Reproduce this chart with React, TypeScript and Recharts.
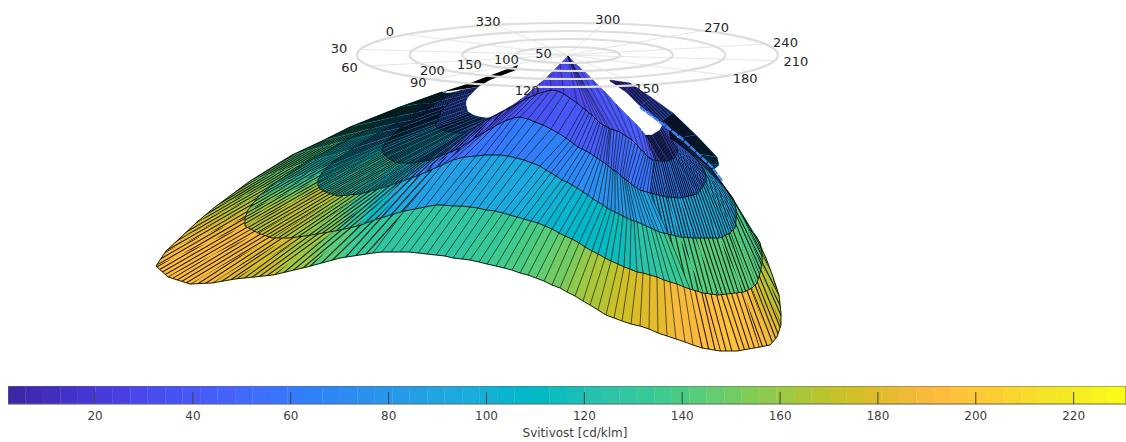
import { ScatterChart, Scatter, XAxis, YAxis, ReferenceArea, Label } from 'recharts';

type Pt = [number, number];

const FONT = '"DejaVu Sans", sans-serif';

// parula, 64 steps, as the colorbar shows it
const PARULA = [
  '#3e26a8', '#402ab4', '#422ebf', '#4332cb', '#4537d5', '#463cde', '#4741e5', '#4747eb', '#484df0', '#4752f4',
  '#4758f8', '#465dfb', '#4563fc', '#4269fe', '#3e6fff', '#3875fe', '#327cfc', '#2f81fa', '#2d87f7', '#2d8cf3',
  '#2b91ef', '#2796eb', '#259be8', '#23a0e5', '#20a5e3', '#1ca9df', '#18addb', '#11b1d6', '#08b5d0', '#01b8ca',
  '#02bac3', '#0bbdbd', '#19bfb6', '#24c1ae', '#2cc3a7', '#31c69f', '#37c897', '#3fca8e', '#4acb84', '#57cc7a',
  '#64cd6f', '#72cc64', '#81cc59', '#8fca4e', '#9dc943', '#abc739', '#b9c431', '#c5c22a', '#d1bf27', '#dcbd29',
  '#e6bb2d', '#efba36', '#f8ba3d', '#febd3c', '#fec338', '#fec934', '#fccf30', '#f9d52d', '#f7dc2a', '#f5e327',
  '#f5e924', '#f6ef20', '#f7f51b', '#f9fb14',
];

const COLORBAR_MIN = 2.2;
const COLORBAR_MAX = 230.7;
const colorbarTicks = [20, 40, 60, 80, 100, 120, 140, 160, 180, 200, 220];

const gridRadii = [50, 100, 150, 200];
const angleTicks = [0, 30, 60, 90, 120, 150, 180, 210, 240, 270, 300, 330];
const gridCentre = [{ x: 567.5, y: 55 }];

// the surface, as projected on the page: one ring per constant-gamma row, same column count in each.
// columns run over the left lobe (18), along the front (40), then up the right side (15)
const LEFT_COLS = 18;
const FRONT_COLS = 40;
const ringR: Pt[] = [
  [478,87],[472,93],[468,97],[466,101],[466,105],[467,109],[468,112],[470,113],[473,115],[476,116],[480,117],[487,118],[493,117],[496,116],[499,115],[505,111],[510,107],[516,103],
  [521,99],[525,96],[530,92],[535,87],[540,83],[545,79],[550,74],[555,69],[560,64],[564,60],
  [568,56],[568,56],[568,56],[568,56],[568,56],[568,56],[568,56],[568,56],[568,56],[568,56],[568,56],[568,56],[568,56],[568,56],
  [578,66],[585,72],[592,79],[598,85],[604,91],[610,97],[616,104],[622,110],[628,116],[632,120],[636,124],[640,128],[642,131],[644,133],[645,135],[645,135],
  [645,135],[652,135],[660,130],[661,128],[662,126],[662,124],[661,123],[662,122],[664,122],[665,123],[667,125],[668,126],[670,128],[668,128],[666,124],
];
const ringA: Pt[] = [
  [462,90],[453,98],[447,105],[443,109],[440,113],[438,119],[436,124],[436,126],[437,127],[440,129],[445,131],[452,132],[458,133],[460,133],[464,132],[475,127],[488,119],[500,113],
  [515,105],[520,102],[525,99],[530,97],[537,94],[544,92],[551,90],[558,91],[564,94],[570,98],
  [577,103],[583,108],[586,110],[589,113],[592,115],[595,118],[598,121],[600,123],[603,125],[605,126],[607,127],[609,128],[610,129],[611,129],
  [614,130],[617,131],[620,132],[623,134],[626,136],[629,138],[632,140],[635,143],[638,146],[641,150],[644,152],[646,155],[648,157],[650,158],[652,160],[654,160],
  [660,161],[668,161],[674,158],[676,155],[677,153],[678,151],[678,150],[676,147],[674,144],[673,142],[672,141],[672,140],[672,139],[670,138],[670,130],
];
const ringB: Pt[] = [
  [455,92],[440,101],[427,110],[413,120],[400,128],[392,136],[385,143],[383,147],[382,150],[383,153],[387,157],[395,162],[402,163],[406,163],[412,163],[430,160],[445,154],[458,149],
  [475,138],[485,132],[495,126],[505,121],[513,118],[520,117],[528,119],[535,122],[543,125],[551,129],
  [558,133],[566,138],[570,141],[574,144],[578,147],[582,149],[586,151],[590,153],[594,156],[597,158],[600,160],[603,162],[606,164],[608,166],
  [611,168],[613,170],[615,171],[617,172],[620,175],[622,177],[624,178],[626,180],[628,181],[631,184],[634,186],[637,188],[640,190],[643,191],[647,192],[650,193],
  [667,197],[680,198],[697,194],[702,188],[705,183],[706,180],[706,177],[705,172],[703,168],[701,165],[699,163],[698,161],[697,160],[692,155],[678,138],
];
const ringC: Pt[] = [
  [450,93],[430,104],[415,113],[397,123],[378,133],[350,150],[327,167],[322,173],[318,180],[318,185],[320,189],[328,193],[338,196],[348,195],[360,194],[385,187],[400,182],[417,176],
  [442,165],[453,160],[464,157],[476,156],[484,155],[492,155],[500,155],[508,156],[516,158],[524,160],
  [532,163],[540,166],[546,170],[551,173],[556,176],[562,180],[567,182],[572,185],[577,188],[583,192],[588,195],[593,199],[598,202],[603,205],
  [607,208],[611,210],[615,212],[619,214],[623,216],[627,218],[631,220],[634,221],[637,222],[642,224],[646,226],[651,228],[655,230],[659,232],[664,233],[668,234],
  [680,237],[695,238],[720,238],[730,233],[735,228],[736,220],[736,213],[736,209],[735,205],[734,201],[732,198],[730,195],[728,192],[711,169],[681,139],
];
const ringD: Pt[] = [
  [446,93],[420,104],[395,117],[370,129],[345,141],[305,163],[272,185],[258,197],[248,210],[245,218],[245,226],[258,233],[272,238],[288,238],[305,236],[335,231],[358,226],[377,219],
  [404,211],[415,209],[425,207],[436,205],[444,205],[453,206],[461,206],[470,207],[478,208],[486,210],
  [495,211],[503,213],[510,215],[517,217],[524,219],[531,221],[538,223],[545,226],[552,229],[559,233],[565,236],[572,239],[579,243],[585,247],
  [592,251],[598,254],[605,258],[611,261],[618,264],[624,267],[630,269],[637,272],[643,273],[650,275],[657,277],[664,280],[670,282],[677,284],[684,287],[690,289],
  [703,293],[718,295],[744,292],[752,288],[757,283],[760,273],[762,263],[762,253],[760,243],[756,236],[750,230],[741,213],[732,197],[712,170],[682,139],
];
const ringE: Pt[] = [
  [442,92],[400,107],[350,127],[322,141],[292,155],[250,181],[215,207],[197,222],[180,238],[166,251],[156,266],[168,277],[190,284],[212,283],[235,279],[273,275],[307,267],[340,258],
  [373,253],[382,252],[391,252],[400,252],[409,252],[418,253],[427,254],[436,255],[445,256],[453,258],
  [462,259],[470,260],[479,262],[487,264],[496,266],[504,268],[512,270],[520,273],[528,275],[536,278],[544,281],[552,285],[560,288],[567,292],
  [575,296],[583,301],[590,305],[598,310],[606,315],[614,318],[622,321],[631,324],[640,326],[649,329],[658,333],[667,336],[676,339],[685,342],[693,345],[702,348],
  [720,351],[737,351],[760,347],[770,345],[777,337],[781,325],[781,313],[779,295],[773,277],[766,258],[757,240],[745,219],[733,200],[713,170],[683,140],
];

// intensity of each facet, band by band (cd/klm)
const band0 = [50,50,50,52,54,56,58,60,62,63,65,65,62,58,52,45,35,28,
  24,24,25,25,26,26,27,27,28,28,28,29,29,30,30,30,31,31,32,32,32,33,33,34,34,35,35,36,36,37,37,38,38,38,39,39,40,40,40,40,
  45,45,45,45,45,45,45,45,44,44,42,42,40,40,40];
const band1 = [60,62,65,68,72,78,85,90,95,98,100,100,96,90,82,68,50,40,
  34,34,35,35,36,36,37,37,38,38,39,40,41,42,43,44,44,45,46,46,47,48,48,49,50,50,51,52,52,53,54,54,55,56,56,57,58,58,59,60,
  60,60,60,60,60,60,58,57,56,54,52,50,48,48,48];
const band2 = [62,65,70,78,85,95,105,110,115,120,125,125,122,118,112,98,72,56,
  52,54,56,58,59,60,60,61,61,62,63,64,65,66,67,68,69,70,71,72,73,74,75,76,77,78,79,80,81,82,83,84,85,86,87,88,89,90,91,92,
  93,95,96,96,96,95,94,92,90,88,85,82,80,75,70];
const band3 = [90,92,95,100,105,115,125,137,150,160,170,172,168,162,155,130,110,95,
  86,86,86,87,87,88,90,91,92,93,94,95,97,98,99,100,102,103,104,105,106,108,109,110,111,112,114,115,116,118,120,122,124,126,128,130,132,134,136,138,
  140,142,143,143,142,141,140,138,135,132,128,124,120,110,100];
const band4 = [100,110,118,126,135,148,160,170,180,186,192,193,188,182,175,160,145,133,
  128,128,128,128,128,128,129,129,130,130,131,132,134,135,137,138,140,142,144,146,149,151,154,157,160,163,166,169,172,174,176,178,180,182,184,186,188,190,191,192,
  193,195,192,186,178,173,168,163,158,153,148,141,135,120,105];

// the mesh lines on the lobes are too tight to list one by one: spacing per panel, then their direction
const front = Array(FRONT_COLS - 1).fill(0);
const pitch0 = [1,1,1,1,1,1,1.1,1.1,1.1,1.15,1.2,1.2,1.2,1.2,1.2,1.3,1.8,3, ...front, 1.6, 1.3,1.3,1.3,1.3,1.3,1.3,1.3,1.3,1.3,1.3,1.3,1.3,1.3,1.2,1.2];
const pitch1 = [1,1,1.05,1.1,1.1,1.15,1.2,1.25,1.3,1.35,1.4,1.4,1.35,1.35,1.3,1.4,2,3.5, ...front, 2.2, 2,1.9,1.8,1.75,1.7,1.65,1.6,1.55,1.5,1.45,1.4,1.3,1.2,1.1,1.1];
const pitch2 = [1.05,1.1,1.15,1.2,1.3,1.4,1.5,1.6,1.7,1.75,1.8,1.8,1.8,1.8,1.8,1.8,2.6,4.5, ...front, 3.2, 3,2.8,2.6,2.4,2.3,2.2,2.1,1.9,1.8,1.6,1.5,1.4,1.3,1.2,1.1];
const pitch3 = [1.05,1.1,1.2,1.35,1.6,1.9,2.3,2.6,2.8,2.9,3,3,3,3,3,3.3,4.5,5.5, ...front, 5, 4.5,4,3.6,3.4,3.2,3,2.8,2.6,2.4,2.1,1.8,1.6,1.4,1.2,1.1];
const pitch4 = [1.05,1.1,1.2,1.4,1.7,2.1,2.6,3,3.3,3.5,3.6,3.6,3.8,3.8,3.8,4.3,5.5,6.5, ...front, 6, 5.5,5,4.6,4.4,4.2,3.8,3.5,3.2,3,2.7,2.4,2,1.5,1.2,1.1];
const hatchAngle = [32,32,32,32,31,31,30,30,30,30,30,31,33,34,36,40,44,48, ...front, 103, 105,108,110,111,112,114,117,118,120,121,122,124,125,128,130];

// back fin behind the right hole
const finOuter: Pt[] = [[610,80],[630,83],[652,98],[673,113],[696,135],[717,157],[719,165],[712,171]];
const finInner: Pt[] = [[610,81],[626,92],[640,106],[660,122],[680,138],[697,154],[708,165],[712,171]];
const finValues = [20, 30, 40, 55, 70, 85, 95, 95];
const finPitch = [1, 1, 1, 1.05, 1.1, 1.2, 1.3, 1.3];
const finAngle = [135, 135, 135, 135, 135, 135, 135, 135];
const streak: Pt[] = [[640,107],[660,122],[680,137],[697,153],[712,167],[722,181]];
const topWedge: Pt[] = [[442,92],[470,83],[518,65],[516,70],[490,80],[478,87]];

const parula = (v: number) => {
  const i = Math.floor(((v - COLORBAR_MIN) / (COLORBAR_MAX - COLORBAR_MIN)) * 64);
  return PARULA[Math.max(0, Math.min(63, i))];
};

const toData = (pts: Pt[]) => pts.map(([x, y]) => ({ x, y }));
const noDot = () => <g />;

// parallel mesh lines across a panel, to be clipped by it; offsets are counted from the page origin
// so neighbouring panels with the same spacing line up
function hatchPath(pts: { x: number; y: number }[], spacing: number, angleDeg: number) {
  const t = (angleDeg * Math.PI) / 180;
  const ux = Math.cos(t);
  const uy = -Math.sin(t);
  const nx = -uy;
  const ny = ux;
  const across = pts.map((q) => q.x * nx + q.y * ny);
  const along = pts.map((q) => q.x * ux + q.y * uy);
  const a0 = Math.min(...along) - 1;
  const a1 = Math.max(...along) + 1;
  const k0 = Math.floor(Math.min(...across) / spacing);
  const k1 = Math.ceil(Math.max(...across) / spacing);
  let d = '';
  for (let k = k0; k <= k1; k++) {
    const o = k * spacing;
    d += `M${(o * nx + a0 * ux).toFixed(2)},${(o * ny + a0 * uy).toFixed(2)}L${(o * nx + a1 * ux).toFixed(2)},${(o * ny + a1 * uy).toFixed(2)}`;
  }
  return d;
}

function band(id: string, inner: Pt[], outer: Pt[], values: number[], pitch: number[], angle: number[]) {
  const n = inner.length;
  return (
    <Scatter
      key={id}
      isAnimationActive={false}
      data={[...toData(inner), ...toData(outer)]}
      shape={noDot}
      line={(p: any) => (
        <g>
          {values.slice(0, n - 1).map((v, j) => {
            const a = p.points[j];
            const b = p.points[j + 1];
            const c = p.points[n + j + 1];
            const d = p.points[n + j];
            const dPath = `M${a.x},${a.y}L${b.x},${b.y}L${c.x},${c.y}L${d.x},${d.y}Z`;
            const col = parula(v);
            if (!pitch[j]) return <path key={j} d={dPath} fill={col} stroke={col} strokeWidth={0.5} />;
            const pid = `${id}-${j}`;
            return (
              <g key={j}>
                <linearGradient
                  id={`${pid}-g`}
                  gradientUnits="userSpaceOnUse"
                  x1={(a.x + d.x) / 2}
                  y1={(a.y + d.y) / 2}
                  x2={(b.x + c.x) / 2}
                  y2={(b.y + c.y) / 2}
                >
                  <stop offset="0" stopColor={col} />
                  <stop offset="1" stopColor={parula(values[j + 1])} />
                </linearGradient>
                <clipPath id={`${pid}-c`}>
                  <path d={dPath} />
                </clipPath>
                <path d={dPath} fill={`url(#${pid}-g)`} stroke={col} strokeWidth={0.5} />
                <path
                  d={hatchPath([a, b, c, d], pitch[j], angle[j])}
                  clipPath={`url(#${pid}-c)`}
                  fill="none"
                  stroke="#000"
                  strokeWidth={Math.min(1.1, pitch[j])}
                  strokeOpacity={0.85}
                />
              </g>
            );
          })}
        </g>
      )}
    />
  );
}

const ringLine = (id: string, pts: Pt[]) => (
  <Scatter
    key={id}
    isAnimationActive={false}
    data={toData(pts)}
    shape={noDot}
    line={{ stroke: '#000', strokeWidth: 1, strokeOpacity: 0.85, fill: 'none' }}
    lineJointType="linear"
  />
);

function PolarGrid(props: any) {
  const { cx, cy } = props;
  const phi = (a: number) => ((-140 - a) * Math.PI) / 180;
  return (
    <g fontFamily={FONT} fontSize={13} fill="#262626">
      {angleTicks.map((a) => (
        <line key={a} x1={cx} y1={cy} x2={cx + 210.5 * Math.cos(phi(a))} y2={cy + 32 * Math.sin(phi(a))} stroke="#e2e2e2" strokeWidth={0.9} />
      ))}
      {gridRadii.map((r) => (
        <ellipse key={r} cx={cx} cy={cy} rx={r * 1.0525} ry={r * 0.16} fill="none" stroke="#dddddd" strokeWidth={2.2} />
      ))}
      {angleTicks.map((a) => (
        <text key={a} x={cx + 232 * Math.cos(phi(a))} y={cy + 36 * Math.sin(phi(a))} textAnchor="middle" dominantBaseline="central">{a}</text>
      ))}
      {gridRadii.map((r) => (
        <text key={r} x={cx + 13 - 0.74 * r} y={cy - 7.3 + 0.113 * r} textAnchor="middle" dominantBaseline="central">{r}</text>
      ))}
    </g>
  );
}

function ColorbarTick(props: any) {
  const { x, payload } = props;
  return (
    <g>
      <line x1={x} x2={x} y1={6} y2={18} stroke="#404040" strokeWidth={1} />
      <text x={x} y={30} textAnchor="middle" dominantBaseline="central" fontFamily={FONT} fontSize={12} fill="#404040">{payload.value}</text>
    </g>
  );
}

export default function App() {
  const cellWidth = (COLORBAR_MAX - COLORBAR_MIN) / PARULA.length;
  return (
    <div style={{ position: 'absolute', left: 0, top: 0, width: 1126, height: 442, background: '#fff', overflow: 'hidden' }}>
      <div style={{ position: 'absolute', left: 0, top: 0 }}>
        <ScatterChart width={1126} height={442} margin={{ top: 0, right: 0, bottom: 0, left: 0 }}>
          <XAxis hide type="number" dataKey="x" domain={[0, 1126]} />
          <YAxis hide type="number" dataKey="y" domain={[0, 442]} reversed />

          {band('fin', finInner, finOuter, finValues, finPitch, finAngle)}
          <Scatter
            isAnimationActive={false}
            data={toData(topWedge)}
            shape={noDot}
            line={(p: any) => <path d={`M${p.points.map((q: any) => `${q.x},${q.y}`).join('L')}Z`} fill="#000" />}
          />

          {band('b0', ringR, ringA, band0, pitch0, hatchAngle)}
          {band('b1', ringA, ringB, band1, pitch1, hatchAngle)}
          {band('b2', ringB, ringC, band2, pitch2, hatchAngle)}
          {band('b3', ringC, ringD, band3, pitch3, hatchAngle)}
          {band('b4', ringD, ringE, band4, pitch4, hatchAngle)}

          {/* front meridians, the ones that can be told apart; lighter and sparser up in the cone */}
          <Scatter
            isAnimationActive={false}
            data={[ringR, ringA, ringB, ringC, ringD, ringE].flatMap((r) => toData(r))}
            shape={noDot}
            line={(p: any) => {
              const n = ringE.length;
              const lines = [];
              for (let j = LEFT_COLS; j < LEFT_COLS + FRONT_COLS; j++) {
                const seg = [0, 1, 2, 3, 4, 5].map((k) => p.points[k * n + j]);
                const lower = seg.slice(1);
                lines.push(<path key={j} d={`M${lower.map((q: any) => `${q.x},${q.y}`).join('L')}`} fill="none" stroke="#000" strokeWidth={0.8} strokeOpacity={0.75} />);
                if (j % 2 === 0) {
                  lines.push(<path key={`c${j}`} d={`M${seg[0].x},${seg[0].y}L${seg[1].x},${seg[1].y}`} fill="none" stroke="#000" strokeWidth={0.8} strokeOpacity={0.55} />);
                }
              }
              return <g>{lines}</g>;
            }}
          />

          {ringLine('ra', ringA)}
          {ringLine('rb', ringB)}
          {ringLine('rc', ringC)}
          {ringLine('rd', ringD)}
          {ringLine('re', ringE)}

          <Scatter
            isAnimationActive={false}
            data={toData(streak)}
            shape={noDot}
            line={{ stroke: '#3a80f8', strokeWidth: 2.4, strokeDasharray: '7 1', fill: 'none' }}
          />

          <Scatter isAnimationActive={false} data={gridCentre} shape={(p: any) => <PolarGrid {...p} />} />
        </ScatterChart>
      </div>

      <div style={{ position: 'absolute', left: 8, top: 386 }}>
        <ScatterChart width={1118} height={56} margin={{ top: 0, right: 0, bottom: 0, left: 0 }}>
          <XAxis
            type="number"
            dataKey="x"
            domain={[COLORBAR_MIN, COLORBAR_MAX]}
            ticks={colorbarTicks}
            height={38}
            axisLine={false}
            tickLine={false}
            tick={(p: any) => <ColorbarTick {...p} />}
          >
            <Label value="Svitivost [cd/klm]" position="insideBottom" offset={5} dx={8} fontFamily={FONT} fontSize={12} fill="#404040" />
          </XAxis>
          <YAxis hide type="number" dataKey="y" domain={[0, 1]} />
          {PARULA.map((c, i) => (
            <ReferenceArea key={i} x1={COLORBAR_MIN + i * cellWidth} x2={COLORBAR_MIN + (i + 1) * cellWidth} y1={0} y2={1} fill={c} fillOpacity={1} stroke={c} strokeWidth={0.3} />
          ))}
          <ReferenceArea x1={COLORBAR_MIN} x2={COLORBAR_MAX} y1={0} y2={1} fill="none" stroke="#666" strokeWidth={1} />
          <Scatter isAnimationActive={false} data={[{ x: COLORBAR_MIN, y: 0 }, { x: COLORBAR_MAX, y: 1 }]} shape={noDot} />
        </ScatterChart>
      </div>
    </div>
  );
}
